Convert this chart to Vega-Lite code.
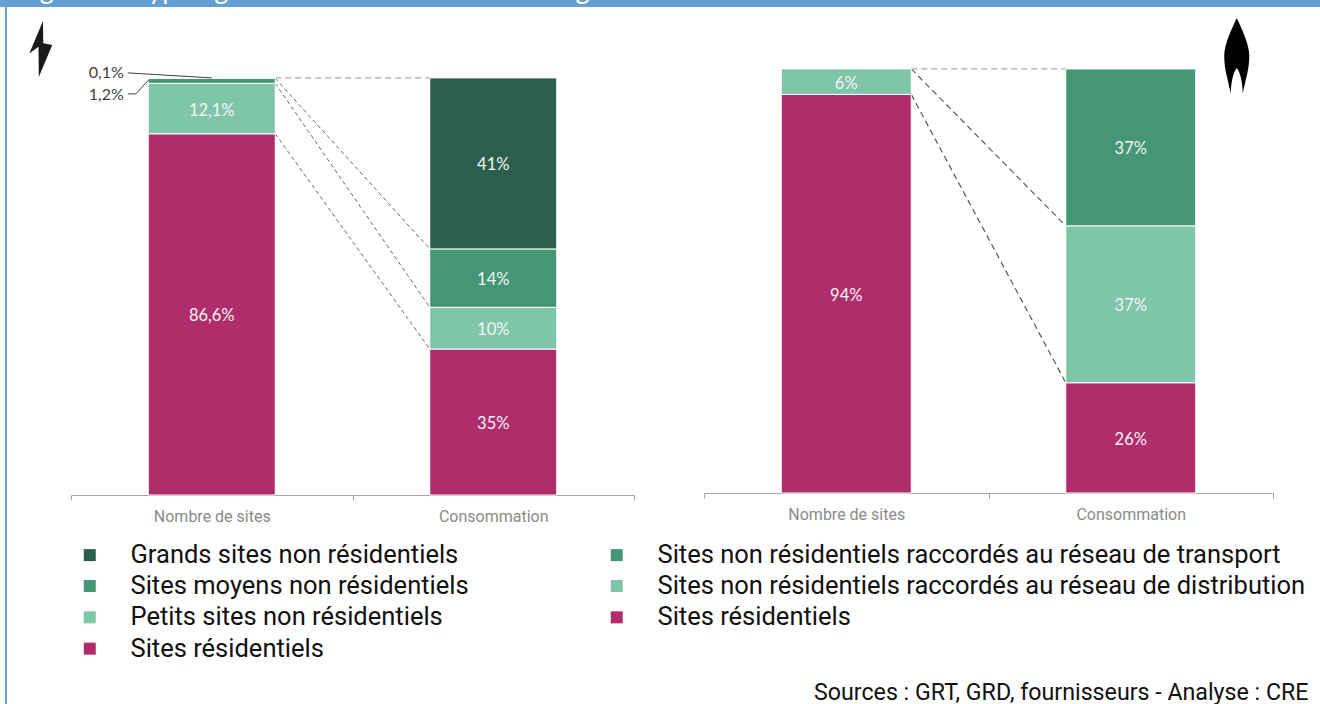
{
  "$schema": "https://vega.github.io/schema/vega-lite/v6.json",
  "padding": 0,
  "background": "white",
  "config": {
    "view": {"stroke": null},
    "font": "Lato",
    "axisX": {
      "title": null, "labelAngle": 0, "labelFont": "Roboto", "labelFontSize": 16, "labelColor": "#8a8a8a", "labelPadding": 8,
      "domainColor": "#a6a6a6", "tickColor": "#a6a6a6", "tickBand": "extent", "tickSize": 5, "grid": false
    }
  },
  "datasets": {
    "elec": [
      {"indicateur": "Nombre de sites", "segment": "Sites résidentiels", "part": 86.6, "rang": 1, "etiquette": "86,6%"},
      {"indicateur": "Nombre de sites", "segment": "Petits sites non résidentiels", "part": 12.1, "rang": 2, "etiquette": "12,1%"},
      {"indicateur": "Nombre de sites", "segment": "Sites moyens non résidentiels", "part": 1.2, "rang": 3, "etiquette": ""},
      {"indicateur": "Nombre de sites", "segment": "Grands sites non résidentiels", "part": 0.1, "rang": 4, "etiquette": ""},
      {"indicateur": "Consommation", "segment": "Sites résidentiels", "part": 35, "rang": 1, "etiquette": "35%"},
      {"indicateur": "Consommation", "segment": "Petits sites non résidentiels", "part": 10, "rang": 2, "etiquette": "10%"},
      {"indicateur": "Consommation", "segment": "Sites moyens non résidentiels", "part": 14, "rang": 3, "etiquette": "14%"},
      {"indicateur": "Consommation", "segment": "Grands sites non résidentiels", "part": 41, "rang": 4, "etiquette": "41%"}
    ],
    "elecLiens": [
      {"de": "Nombre de sites", "vers": "Consommation", "cumulSites": 86.6, "cumulConso": 35},
      {"de": "Nombre de sites", "vers": "Consommation", "cumulSites": 98.7, "cumulConso": 45},
      {"de": "Nombre de sites", "vers": "Consommation", "cumulSites": 99.9, "cumulConso": 59}
    ],
    "gaz": [
      {"indicateur": "Nombre de sites", "segment": "Sites résidentiels gaz", "part": 94, "rang": 1, "etiquette": "94%"},
      {"indicateur": "Nombre de sites", "segment": "Sites non résidentiels raccordés au réseau de distribution", "part": 6, "rang": 2, "etiquette": "6%"},
      {"indicateur": "Consommation", "segment": "Sites résidentiels gaz", "part": 26, "rang": 1, "etiquette": "26%"},
      {"indicateur": "Consommation", "segment": "Sites non résidentiels raccordés au réseau de distribution", "part": 37, "rang": 2, "etiquette": "37%"},
      {"indicateur": "Consommation", "segment": "Sites non résidentiels raccordés au réseau de transport", "part": 37, "rang": 3, "etiquette": "37%"}
    ],
    "gazLiens": [
      {"de": "Nombre de sites", "vers": "Consommation", "cumulSites": 94, "cumulConso": 26},
      {"de": "Nombre de sites", "vers": "Consommation", "cumulSites": 100, "cumulConso": 63}
    ],
    "sommet": [{"de": "Nombre de sites", "vers": "Consommation", "cumulSites": 100, "cumulConso": 100}]
  },
  "spacing": 0,
  "vconcat": [
    {
      "width": 1320,
      "height": 7,
      "view": {"fill": "#659FD4"},
      "data": {"values": [{"titre": "Figure 2 : Typologie des sites d'électricité et de gaz"}]},
      "mark": {"type": "text", "clip": true, "align": "left", "baseline": "alphabetic", "font": "Lato", "fontSize": 27, "color": "white", "xOffset": -642, "yOffset": -5},
      "encoding": {"text": {"field": "titre"}}
    },
    {
      "spacing": 22,
      "hconcat": [
        {
          "spacing": 0,
          "hconcat": [
            {"width": 5, "height": 697, "data": {"values": []}, "mark": "rect", "encoding": {}},
            {"width": 2, "height": 697, "view": {"fill": "#659FD4"}, "data": {"values": []}, "mark": "rect", "encoding": {}}
          ]
        },
        {
          "spacing": 68,
          "hconcat": [
            {
              "width": 563,
              "height": 488,
              "layer": [
                {
                  "data": {"name": "elecLiens"},
                  "mark": {"type": "rule", "xOffset": 63.5, "x2Offset": -63.5, "strokeDash": [4, 3], "stroke": "#666666", "strokeWidth": 1},
                  "encoding": {
                    "x": {"field": "de", "type": "nominal", "scale": {"domain": ["Nombre de sites", "Consommation"], "paddingInner": 0, "paddingOuter": 0}, "sort": null},
                    "x2": {"field": "vers"},
                    "y": {"field": "cumulSites", "type": "quantitative", "scale": {"domain": [0, 117], "nice": false}, "axis": null},
                    "y2": {"field": "cumulConso"}
                  }
                },
                {
                  "data": {"name": "sommet"},
                  "mark": {"type": "rule", "xOffset": 63.5, "x2Offset": -63.5, "strokeDash": [6, 4], "stroke": "#a6a6a6", "strokeWidth": 1.2},
                  "encoding": {
                    "x": {"field": "de", "type": "nominal", "sort": null},
                    "x2": {"field": "vers"},
                    "y": {"field": "cumulSites", "type": "quantitative"},
                    "y2": {"field": "cumulConso"}
                  }
                },
                {
                  "data": {"name": "elec"},
                  "mark": {"type": "bar", "stroke": "white", "strokeWidth": 1, "width": 127},
                  "encoding": {
                    "x": {"field": "indicateur", "type": "nominal", "sort": null},
                    "y": {"field": "part", "type": "quantitative", "stack": "zero"},
                    "order": {"field": "rang"},
                    "color": {
                      "field": "segment",
                      "type": "nominal",
                      "scale": {
                        "domain": [
                          "Grands sites non résidentiels",
                          "Sites moyens non résidentiels",
                          "Petits sites non résidentiels",
                          "Sites résidentiels",
                          "Sites non résidentiels raccordés au réseau de transport",
                          "Sites non résidentiels raccordés au réseau de distribution",
                          "Sites résidentiels gaz"
                        ],
                        "range": ["#2B5E4C", "#459676", "#7FC5A9", "#B02C6B", "#459676", "#7FC5A9", "#B02C6B"]
                      },
                      "legend": {
                        "orient": "none", "legendX": 77, "legendY": 542, "title": null, "columns": 2, "columnPadding": 135, "rowPadding": 4.3,
                        "symbolType": "square", "symbolSize": 144, "symbolStrokeWidth": 0, "labelFont": "Roboto", "labelFontSize": 25.5, "labelColor": "#111111", "labelOffset": 28, "labelLimit": 700,
                        "labelExpr": "replace(datum.label, ' gaz', '')"
                      }
                    }
                  }
                },
                {
                  "data": {"name": "elec"},
                  "transform": [{"filter": "datum.etiquette != ''"}],
                  "mark": {"type": "text", "font": "Lato", "fontSize": 16.5, "color": "#f5f5f5", "yOffset": 2},
                  "encoding": {
                    "x": {"field": "indicateur", "type": "nominal", "sort": null},
                    "y": {"field": "part", "type": "quantitative", "stack": "zero", "bandPosition": 0.5},
                    "order": {"field": "rang"},
                    "text": {"field": "etiquette"}
                  }
                },
                {
                  "data": {"values": [{"indicateur": "Nombre de sites", "niveau": 100}]},
                  "layer": [
                    {
                      "mark": {"type": "text", "align": "right", "font": "Lato", "fontSize": 16, "color": "#404040", "xOffset": -88, "yOffset": -5, "text": "0,1%"}
                    },
                    {
                      "mark": {"type": "text", "align": "right", "font": "Lato", "fontSize": 16, "color": "#404040", "xOffset": -88, "yOffset": 17, "text": "1,2%"}
                    },
                    {
                      "mark": {"type": "rule", "stroke": "#404040", "strokeWidth": 1, "xOffset": -84, "x2Offset": 0, "yOffset": -5, "y2Offset": 0},
                      "encoding": {"x2": {"field": "indicateur"}, "y2": {"field": "niveau"}}
                    },
                    {
                      "mark": {"type": "rule", "stroke": "#404040", "strokeWidth": 1, "xOffset": -84, "x2Offset": -76, "yOffset": 16, "y2Offset": 16},
                      "encoding": {"x2": {"field": "indicateur"}, "y2": {"field": "niveau"}}
                    },
                    {
                      "mark": {"type": "rule", "stroke": "#404040", "strokeWidth": 1, "xOffset": -76, "x2Offset": -63, "yOffset": 16, "y2Offset": 2},
                      "encoding": {"x2": {"field": "indicateur"}, "y2": {"field": "niveau"}}
                    },
                    {
                      "mark": {
                        "type": "point", "filled": true, "color": "#1a1a1a", "size": 3136, "opacity": 1, "xOffset": -171, "yOffset": -29,
                        "shape": "M0.08,-1 L-0.41,0.16 L-0.08,-0.08 L-0.07,1 L0.41,-0.14 L0.09,-0.2 Z"
                      }
                    }
                  ],
                  "encoding": {
                    "x": {"field": "indicateur", "type": "nominal", "sort": null},
                    "y": {"field": "niveau", "type": "quantitative"}
                  }
                }
              ]
            },
            {
              "width": 569,
              "height": 486,
              "title": {"text": "Sources : GRT, GRD, fournisseurs - Analyse : CRE", "orient": "bottom", "anchor": "end", "font": "Roboto", "fontSize": 23.2, "fontWeight": "normal", "color": "#111111", "offset": 160, "dx": 35},
              "layer": [
                {
                  "data": {"name": "gazLiens"},
                  "mark": {"type": "rule", "xOffset": 65, "x2Offset": -65, "strokeDash": [6, 4], "stroke": "#555555", "strokeWidth": 1.2},
                  "encoding": {
                    "x": {"field": "de", "type": "nominal", "scale": {"domain": ["Nombre de sites", "Consommation"], "paddingInner": 0, "paddingOuter": 0}, "sort": null},
                    "x2": {"field": "vers"},
                    "y": {"field": "cumulSites", "type": "quantitative", "scale": {"domain": [0, 114.6], "nice": false}, "axis": null},
                    "y2": {"field": "cumulConso"}
                  }
                },
                {
                  "data": {"name": "sommet"},
                  "mark": {"type": "rule", "xOffset": 65, "x2Offset": -65, "strokeDash": [6, 4], "stroke": "#a6a6a6", "strokeWidth": 1.2},
                  "encoding": {
                    "x": {"field": "de", "type": "nominal", "sort": null},
                    "x2": {"field": "vers"},
                    "y": {"field": "cumulSites", "type": "quantitative"},
                    "y2": {"field": "cumulConso"}
                  }
                },
                {
                  "data": {"name": "gaz"},
                  "mark": {"type": "bar", "stroke": "white", "strokeWidth": 1, "width": 130},
                  "encoding": {
                    "x": {"field": "indicateur", "type": "nominal", "sort": null},
                    "y": {"field": "part", "type": "quantitative", "stack": "zero"},
                    "order": {"field": "rang"},
                    "color": {"field": "segment", "type": "nominal"}
                  }
                },
                {
                  "data": {"name": "gaz"},
                  "mark": {"type": "text", "font": "Lato", "fontSize": 16.5, "color": "#f5f5f5", "yOffset": 2},
                  "encoding": {
                    "x": {"field": "indicateur", "type": "nominal", "sort": null},
                    "y": {"field": "part", "type": "quantitative", "stack": "zero", "bandPosition": 0.5},
                    "order": {"field": "rang"},
                    "text": {"field": "etiquette"}
                  }
                },
                {
                  "data": {"values": [{"indicateur": "Consommation", "niveau": 100}]},
                  "mark": {
                    "type": "point", "filled": true, "color": "#000000", "size": 5776, "opacity": 1, "xOffset": 106, "yOffset": -13,
                    "shape": "M0,-1 C0.14,-0.7 0.33,-0.3 0.33,0 C0.33,0.4 0.2,0.7 0.16,1 C0.15,0.7 0.1,0.45 0,0.32 C-0.1,0.45 -0.15,0.7 -0.16,1 C-0.2,0.7 -0.33,0.4 -0.33,0 C-0.33,-0.3 -0.14,-0.7 0,-1 Z"
                  },
                  "encoding": {
                    "x": {"field": "indicateur", "type": "nominal", "sort": null},
                    "y": {"field": "niveau", "type": "quantitative"}
                  }
                }
              ]
            }
          ]
        }
      ]
    }
  ]
}
